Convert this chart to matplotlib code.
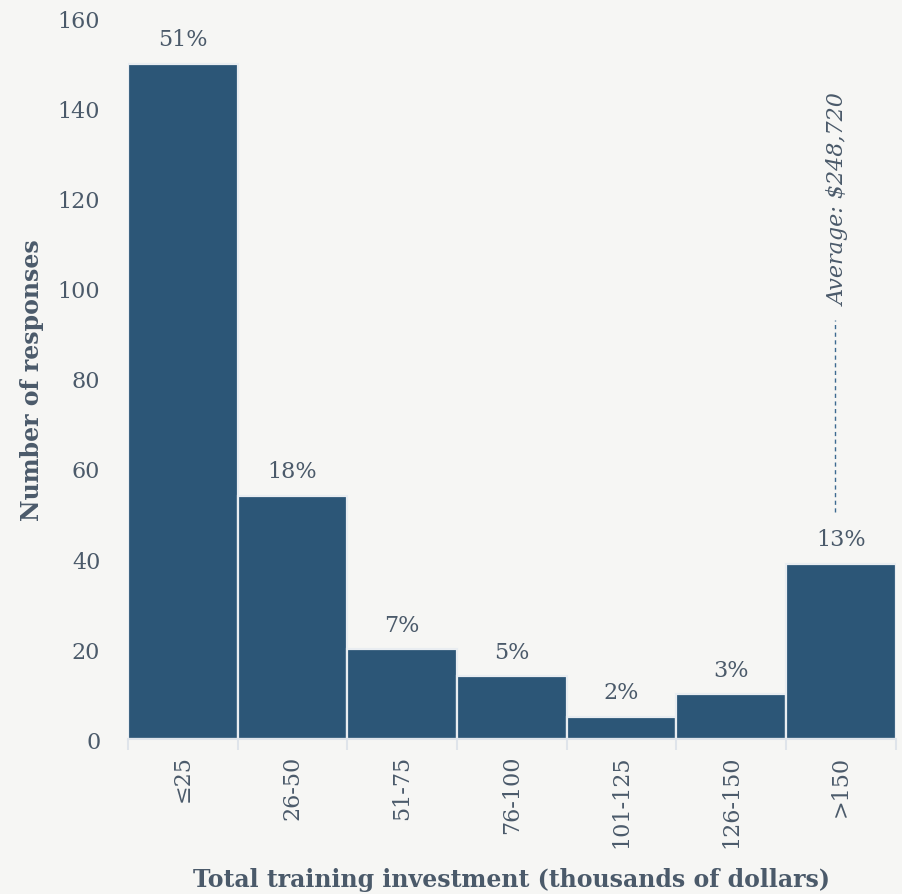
import matplotlib
matplotlib.use('Agg')
import matplotlib.pyplot as plt

categories = ['≤25', '26-50', '51-75', '76-100', '101-125', '126-150', '>150']
responses = [150, 54, 20, 14, 5, 10, 39]
percent_labels = ['51%', '18%', '7%', '5%', '2%', '3%', '13%']
average_label = 'Average: $248,720'

bg = '#f6f6f4'
bar_color = '#2c5677'
text_color = '#4b5a6a'

plt.rcParams['font.family'] = ['DejaVu Serif']

fig = plt.figure(figsize=(9.02, 8.95), dpi=100, facecolor=bg)
ax = fig.add_axes([0.142, 0.173, 0.851, 0.805], facecolor=bg)

x = [i + 0.5 for i in range(len(categories))]
ax.bar(x, responses, width=1.0, color=bar_color, edgecolor='#e9edf1', linewidth=1.6)

for xi, v, lab in zip(x, responses, percent_labels):
    ax.text(xi, v + 3, lab, ha='center', va='bottom', fontsize=16, color=text_color)

# dashed marker for the average
ax.plot([6.45, 6.45], [50.5, 93], color='#3d6a90', linestyle=(0, (3, 2.5)), linewidth=1)
ax.text(6.48, 96.5, average_label, rotation=90, ha='center', va='bottom',
        fontsize=16, style='italic', color=text_color)

ax.set_xlim(0, 7)
ax.set_ylim(0, 160)
ax.set_yticks(range(0, 161, 20))
ax.set_xticks(range(0, 8))
ax.set_xticklabels([])
ax.set_xticks(x, minor=True)
ax.set_xticklabels(categories, minor=True, rotation=90)

ax.tick_params(axis='x', which='major', length=8, width=1.5, color='#dfe4ea')
ax.tick_params(axis='x', which='minor', length=0, pad=11, labelsize=16, labelcolor=text_color)
ax.tick_params(axis='y', length=0, pad=20, labelsize=16, labelcolor=text_color)

for s in ['top', 'right', 'left']:
    ax.spines[s].set_visible(False)
ax.spines['bottom'].set_color('#dfe4ea')
ax.spines['bottom'].set_linewidth(1.5)

ax.set_xlabel('Total training investment (thousands of dollars)', fontsize=17,
              fontweight='bold', color=text_color)
ax.set_ylabel('Number of responses', fontsize=17, fontweight='bold', color=text_color)
ax.xaxis.set_label_coords(0.5, -0.178)
ax.yaxis.set_label_coords(-0.109, 0.5)

fig.savefig('out.png', dpi=100, facecolor=bg)
